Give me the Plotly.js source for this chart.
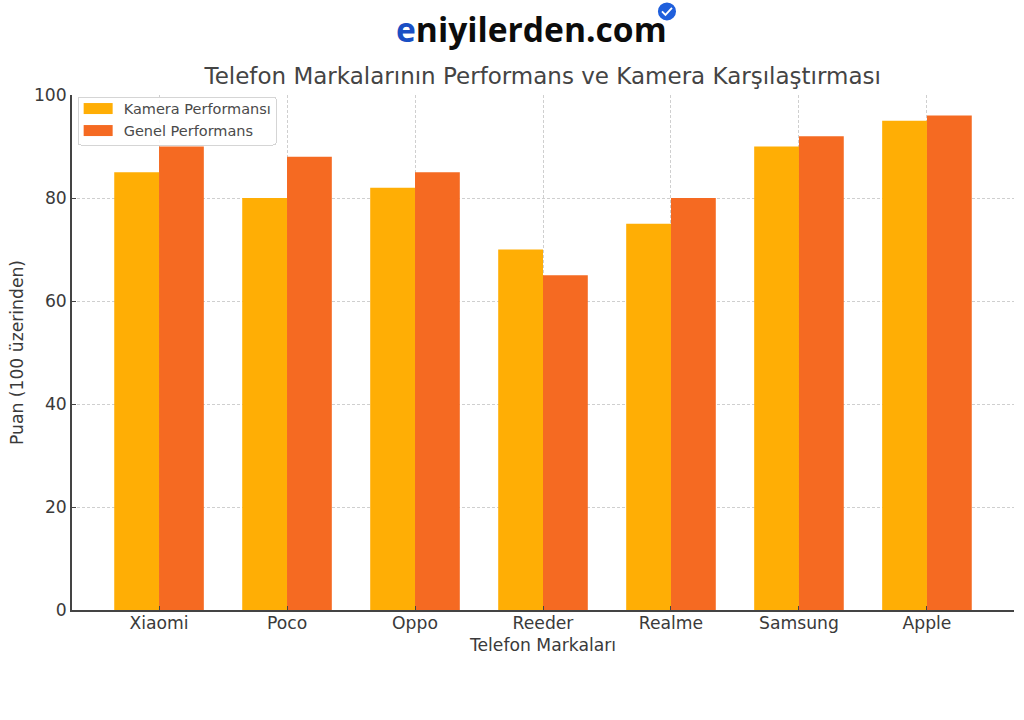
<!DOCTYPE html>
<html>
<head>
<meta charset="utf-8">
<script src="https://cdn.plot.ly/plotly-3.0.1.min.js"></script>
<style>
  html, body { margin: 0; padding: 0; background: #fff; }
  #chart { width: 1024px; height: 720px; }
</style>
</head>
<body>
<div id="chart"></div>
<script>
var brands = ['Xiaomi', 'Poco', 'Oppo', 'Reeder', 'Realme', 'Samsung', 'Apple']
var kamera = [85, 80, 82, 70, 75, 90, 95]
var genel = [90, 88, 85, 65, 80, 92, 96]
var yTicks = [0, 20, 40, 60, 80, 100]

var textColor = '#3a3a3a'
var fontName = '"DejaVu Sans", sans-serif'

var data = [
    { name: 'Kamera Performansı', x: brands, y: kamera, type: 'bar', marker: { color: '#ffae05' } },
    { name: 'Genel Performans', x: brands, y: genel, type: 'bar', marker: { color: '#f56a22' } }
]

function axisBase() {
    return {
        showline: true, linecolor: '#444', linewidth: 1.6,
        ticks: 'inside', ticklen: 4, tickcolor: '#444', tickwidth: 1,
        showgrid: true, gridcolor: '#cfcfcf', griddash: '3px,2px', gridwidth: 1,
        zeroline: false,
        tickfont: { family: fontName, size: 17.2, color: textColor }
    }
}

var xaxis = axisBase()
xaxis.range = [-0.68, 6.68]
xaxis.ticklabelstandoff = -3
xaxis.title = { text: 'Telefon Markaları', font: { family: fontName, size: 17.2, color: textColor }, standoff: 7 }

var yaxis = axisBase()
yaxis.range = [0, 100]
yaxis.tickvals = yTicks
yaxis.title = { text: 'Puan (100 üzerinden)', font: { family: fontName, size: 17.2, color: textColor }, standoff: 6 }

var layout = {
    width: 1024,
    height: 720,
    paper_bgcolor: '#fff',
    plot_bgcolor: '#fff',
    margin: { l: 72, r: 10, t: 95, b: 110, autoexpand: false },
    barmode: 'group',
    bargap: 0.3,
    bargroupgap: 0,
    showlegend: true,
    title: {
        text: 'Telefon Markalarının Performans ve Kamera Karşılaştırması',
        font: { family: fontName, size: 23, color: '#444' },
        x: 0.53, xanchor: 'center', y: 0.895, yanchor: 'middle'
    },
    xaxis: xaxis,
    yaxis: yaxis,
    legend: {
        x: 0.006, y: 0.997, xanchor: 'left', yanchor: 'top',
        bgcolor: 'rgba(255,255,255,0.85)', bordercolor: '#d5d5d5', borderwidth: 1,
        font: { family: fontName, size: 14.5, color: '#4a4a4a' },
        itemwidth: 36, traceorder: 'normal'
    },
    shapes: [
        { type: 'circle', xref: 'paper', yref: 'paper', x0: 0.6220, x1: 0.6412, y0: 1.1448, y1: 1.1798,
          fillcolor: '#1f5fdc', line: { width: 0 } },
        { type: 'path', xref: 'paper', yref: 'paper', path: 'M0.6263,1.1623 L0.6300,1.1555 L0.6369,1.1691',
          line: { color: '#fff', width: 1.8 } }
    ],
    annotations: [
        {
            xref: 'paper', yref: 'paper', x: 0.4883, y: 1.129, xanchor: 'center', yanchor: 'middle', showarrow: false,
            text: '<b><span style="color:#1a4fc4">e</span>niyilerden.com</b>',
            font: { family: '"Open Sans", sans-serif', size: 33.6, color: '#0c0c0c' }
        }
    ]
}

// matplotlib style legend: wide flat swatches, tighter rows, rounded box
function fixLegend() {
    var gd = document.getElementById('chart')
    gd.querySelectorAll('.legend .legendpoints path').forEach(function (p) {
        p.setAttribute('d', 'M-17,5.5H12V-5.5H-17Z')
    })
    gd.querySelectorAll('.legend .bg').forEach(function (r) {
        r.setAttribute('height', 48)
        r.setAttribute('width', 198)
        r.setAttribute('rx', 3)
    })
    var box = gd.querySelector('.legend .scrollbox')
    if (box) box.removeAttribute('clip-path')
    gd.querySelectorAll('.legend .traces').forEach(function (t, i) {
        t.setAttribute('transform', 'translate(0,' + (12 + i * 22) + ')')
    })
}

Plotly.newPlot('chart', data, layout, { displayModeBar: false }).then(fixLegend)
</script>
</body>
</html>
